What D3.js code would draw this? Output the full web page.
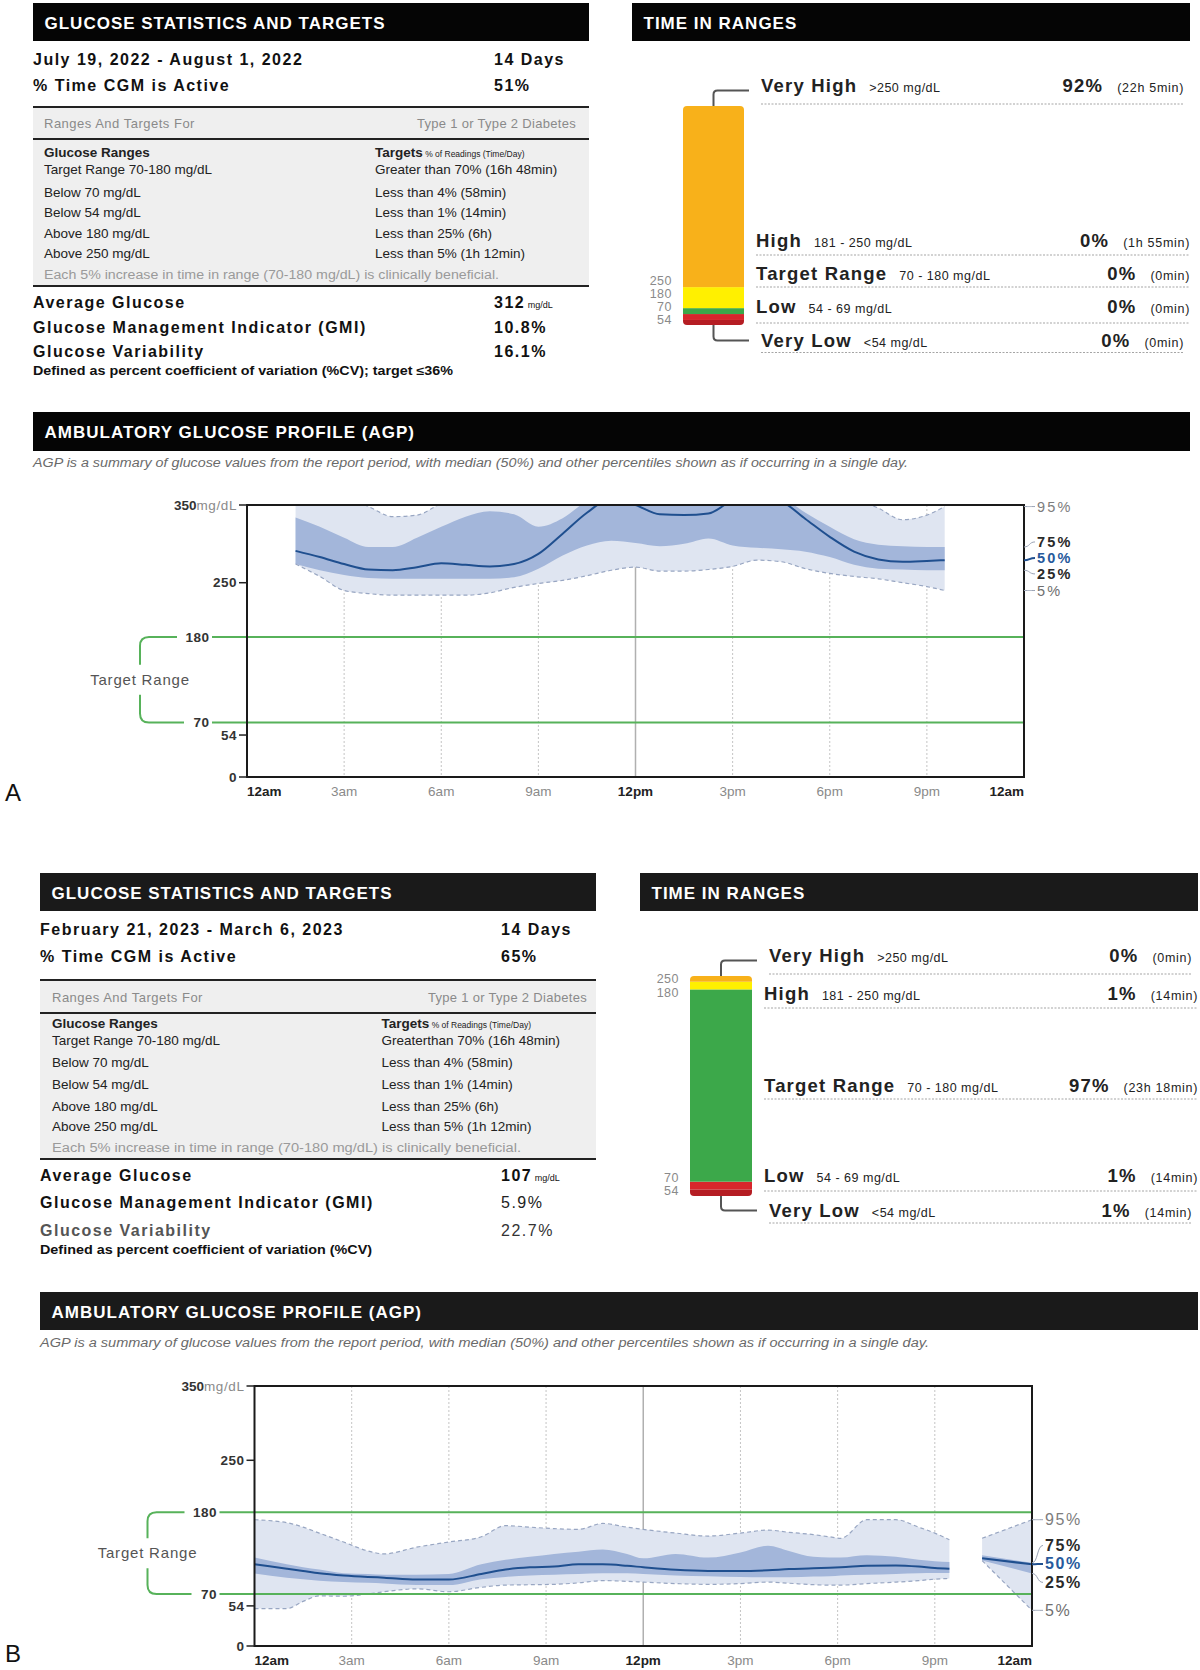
<!DOCTYPE html>
<html><head><meta charset="utf-8">
<script src="https://cdn.jsdelivr.net/npm/d3@7"></script>
<style>
html,body{margin:0;padding:0;background:#fff}
svg{display:block;font-family:"Liberation Sans",Arial,Helvetica,sans-serif}
</style>
</head><body>
<svg id="chart" width="1200" height="1670"></svg>
<script>
// ================= DATA =================
// Stats (panel A / panel B)
const periodA = "July 19, 2022 - August 1, 2022";
const periodB = "February 21, 2023 - March 6, 2023";
const daysA = "14 Days", daysB = "14 Days";
const activeA = "51%", activeB = "65%";
const avgGlucoseA = "312", avgGlucoseB = "107";
const gmiA = "10.8%", gmiB = "5.9%";
const cvA = "16.1%", cvB = "22.7%";
const cvNoteA = "Defined as percent coefficient of variation (%CV); target \u226436%";
const cvNoteB = "Defined as percent coefficient of variation (%CV)";
const rangeRows = ["Target Range 70-180 mg/dL","Below 70 mg/dL","Below 54 mg/dL","Above 180 mg/dL","Above 250 mg/dL"];
const targetRowsA = ["Greater than 70% (16h 48min)","Less than 4% (58min)","Less than 1% (14min)","Less than 25% (6h)","Less than 5% (1h 12min)"];
const targetRowsB = ["Greaterthan 70% (16h 48min)","Less than 4% (58min)","Less than 1% (14min)","Less than 25% (6h)","Less than 5% (1h 12min)"];
const noteText = "Each 5% increase in time in range (70-180 mg/dL) is clinically beneficial.";

// Time in ranges (top -> bottom)
const tirCategories = ["Very High","High","Target Range","Low","Very Low"];
const tirRangeText = [">250 mg/dL","181 - 250 mg/dL","70 - 180 mg/dL","54 - 69 mg/dL","<54 mg/dL"];
const tirPctA = ["92%","0%","0%","0%","0%"];
const tirTimeA = ["(22h 5min)","(1h 55min)","(0min)","(0min)","(0min)"];
const tirPctB = ["0%","1%","97%","1%","1%"];
const tirTimeB = ["(0min)","(14min)","(23h 18min)","(14min)","(14min)"];
// bar segment shares as drawn (veryHigh, high, target, low, veryLow)
const barSharesA = [82.7, 9.6, 2.7, 2.7, 2.3];
const barSharesB = [2.6, 3.5, 87.4, 3.5, 3.0];
const barTickLabels = ["250","180","70","54"];
const tirColors = ["#F8B11A","#FFF000","#3CA84A","#D8262C","#B51D23"];

// AGP axis
const timeTickHours = [0,3,6,9,12,15,18,21,24];
const timeTickLabels = ["12am","3am","6am","9am","12pm","3pm","6pm","9pm","12am"];
const timeTickBold = [true,false,false,false,true,false,false,false,true];
const glucoseTicks = [0,54,250];
const targetLimits = [180,70];
const percentileNames = ["95%","75%","50%","25%","5%"];

// AGP panel A (mg/dL)
const hoursA = [1.5,2.25,3,3.75,4.5,5.25,6,6.75,7.5,8.25,9,9.75,10.5,11.25,12,12.75,13.5,14.25,15,15.75,16.5,17.25,18,18.75,19.5,20.25,21,21.55];
const p95A = [362,362,360,348,335,337,352,362,365,365,365,365,368,370,370,370,370,370,370,370,368,365,362,358,346,331,337,348];
const p75A = [334,322,308,296,296,308,322,335,342,338,322,333,355,365,368,368,368,368,368,366,360,340,322,306,299,297,296,296];
const p50A = [291,283,274,267,266,270,275,273,271,274,287,313,340,358,350,338,337,339,356,362,355,332,309,290,280,277,278,279];
const p25A = [274,266,260,256,255,255,255,255,255,257,268,285,298,304,301,297,300,307,298,295,293,290,283,273,268,267,266,266];
const p5A  = [274,258,240,236,234,234,234,234,237,244,249,253,259,266,270,265,265,267,271,279,277,268,262,258,255,250,245,240];

// AGP panel B (mg/dL), null = no data
const hoursB = [0,1,1.5,2,2.75,3.5,4,5,6,7,7.75,8.5,9.25,10,10.75,11.5,12,13,14,15,15.85,16.5,17.25,17.75,18.1,18.9,19.8,20.5,21,21.45,22,22.46,24];
const p95B = [170,166,160,152,140,128,124,133,140,147,162,160,158,157,165,160,157,152,148,152,156,153,150,147,145,170,170,160,152,143,null,145,170];
const p75B = [119,110,106,103,98,97,96,96,97,110,116,120,124,127,130,124,118,124,119,126,135,128,120,119,119,122,120,116,114,113,null,122,112];
const p50B = [110,104,101,98,95,93,92,89.5,89.5,97,103,106,107,110,110,108,106,102.5,101,101,102,103.5,104.5,105.5,106,108,108.5,107,105,104,null,118,110];
const p25B = [97.6,92,90,88,86,85,84,82,82,90,93,95,96,97,98,98,97,95,94,93,92.5,92.5,93.5,94,95,96,97,98,98.4,98.4,null,115,97.6];
const p5B  = [50.4,50.4,60,67.5,67,70,73,77,73,79,82,82.5,83,85,88,87,86,84,83,84,86,84.5,82.5,82,82,84,86,88,90,91,null,115,48];

// ================= LAYOUT =================
const LA = {
  stats:{x0:33,x1:589,hy:3,hh:38,valX:494,ind:11,tx:375,rind:13,date:65,active:91,line1:107,ratf:128,line2:139,gr:157,rows:[174,197,217,238,258],note:279,noteW:455,line3:286,avg:308,gmi:333,gv:357,def:375,defW:420,hfill:"#050505",gvColor:"#111",lightVals:false},
  tir:{x0:632,x1:1190,hy:3,hh:38,barL:683,barR:744,barTop:106,barBottom:325,rowY:[92,247,280,313,347],dotOff:[12,8,7,10,5.5],hfill:"#050505"},
  agp:{hx0:33,hx1:1190,hy:412,hh:39,sub:467,subW:875,left:247,right:1024,top:505,bottom:777,pctSize:14.5,pctLs:2.2,pctGap:16,letter:"A",letterY:801}
};
const LB = {
  stats:{x0:40,x1:596,hy:873,hh:38,valX:501,ind:12,tx:381.5,rind:9,date:935,active:962,line1:980,ratf:1002,line2:1013,gr:1028,rows:[1045,1067,1089,1111,1131],note:1152,noteW:469,line3:1159,avg:1181,gmi:1208,gv:1236,def:1254,defW:332,hfill:"#1a1a1a",gvColor:"#555",lightVals:true},
  tir:{x0:640,x1:1198,hy:873,hh:38,barL:690,barR:752,barTop:976,barBottom:1196,rowY:[962,1000,1092,1182,1217],dotOff:[12,8,7,9,6],hfill:"#1a1a1a"},
  agp:{hx0:40,hx1:1198,hy:1292,hh:38,sub:1347,subW:889,left:254.5,right:1032,top:1386,bottom:1646,pctSize:16,pctLs:1.6,pctGap:18.5,letter:"B",letterY:1662}
};

// ================= HELPERS =================
const svg = d3.select("#chart");
svg.append("rect").attr("width",1200).attr("height",1670).attr("fill","#fff");

function T(g, x, y, str, o = {}) {
  const t = g.append("text").attr("x", x).attr("y", y).text(str)
    .attr("font-size", o.s || 13)
    .attr("font-weight", o.b ? "bold" : "normal")
    .attr("fill", o.c || "#222")
    .attr("text-anchor", o.a || "start");
  if (o.ls) t.attr("letter-spacing", o.ls);
  if (o.i) t.attr("font-style", "italic");
  if (o.dy) t.attr("dy", o.dy);
  if (o.w) t.attr("textLength", o.w).attr("lengthAdjust", "spacingAndGlyphs");
  return t;
}
function header(g, x, y, w, h, title, fill) {
  g.append("rect").attr("x", x).attr("y", y).attr("width", w).attr("height", h).attr("fill", fill);
  T(g, x + 11.5, y + h / 2 + 6.5, title, {s:17, b:1, c:"#fff", ls:1.0});
}
function relax(ys, gap, maxY) {
  const p = ys.slice();
  for (let k = 0; k < 60; k++) {
    for (let i = 1; i < p.length; i++) {
      const d = p[i] - p[i-1];
      if (d < gap) { const m = (gap - d) / 2; p[i] += m; p[i-1] -= m; }
    }
    p[p.length-1] = Math.min(p[p.length-1], maxY);
    for (let i = p.length - 2; i >= 0; i--) p[i] = Math.min(p[i], p[i+1] - gap);
  }
  return p;
}

// ================= STATS =================
function drawStats(L, S) {
  const g = svg.append("g");
  header(g, L.x0, L.hy, L.x1 - L.x0, L.hh, "GLUCOSE STATISTICS AND TARGETS", L.hfill);
  const big = {s:16, b:1, ls:1.5, c:"#111"};
  T(g, L.x0, L.date, S.period, big);
  T(g, L.valX, L.date, S.days, big);
  T(g, L.x0, L.active, "% Time CGM is Active", big);
  T(g, L.valX, L.active, S.active, big);

  g.append("rect").attr("x", L.x0).attr("y", L.line1).attr("width", L.x1 - L.x0)
    .attr("height", L.line3 - L.line1).attr("fill", "#efefef");
  [L.line1, L.line2, L.line3].forEach(yy =>
    g.append("line").attr("x1", L.x0).attr("x2", L.x1).attr("y1", yy).attr("y2", yy)
      .attr("stroke", "#222").attr("stroke-width", 2.2));

  T(g, L.x0 + L.ind, L.ratf, "Ranges And Targets For", {s:13, c:"#8a8a8a", ls:0.5});
  T(g, L.x1 - L.rind, L.ratf, "Type 1 or Type 2 Diabetes", {s:13, c:"#8a8a8a", a:"end", ls:0.3});
  T(g, L.x0 + L.ind, L.gr, "Glucose Ranges", {s:13.5, b:1, c:"#222"});
  const tt = T(g, L.tx, L.gr, "Targets", {s:13.5, b:1, c:"#222"});
  tt.append("tspan").attr("font-size", 8.5).attr("font-weight", "normal").text(" % of Readings (Time/Day)");
  rangeRows.forEach((r, i) => {
    T(g, L.x0 + L.ind, L.rows[i], r, {s:13.5, c:"#222"});
    T(g, L.tx, L.rows[i], S.targets[i], {s:13.5, c:"#222"});
  });
  T(g, L.x0 + L.ind, L.note, noteText, {s:12.5, c:"#9a9a9a", w:L.noteW});

  T(g, L.x0, L.avg, "Average Glucose", big);
  const av = T(g, L.valX, L.avg, S.avg, big);
  av.append("tspan").attr("font-size", 9).attr("font-weight", "normal").attr("letter-spacing", 0).text("  mg/dL");
  T(g, L.x0, L.gmi, "Glucose Management Indicator (GMI)", big);
  T(g, L.valX, L.gmi, S.gmi, L.lightVals ? {s:16, ls:1.5, c:"#222"} : big);
  T(g, L.x0, L.gv, "Glucose Variability", Object.assign({}, big, {c:L.gvColor}));
  T(g, L.valX, L.gv, S.cv, L.lightVals ? {s:16, ls:1.5, c:"#333"} : big);
  T(g, L.x0, L.def, S.cvNote, {s:12, b:1, c:"#111", w:L.defW});
}

// ================= TIME IN RANGES =================
function drawTIR(L, shares, pcts, times, id) {
  const g = svg.append("g");
  header(g, L.x0, L.hy, L.x1 - L.x0, L.hh, "TIME IN RANGES", L.hfill);
  const yb = d3.scaleLinear().domain([0, 100]).range([L.barBottom, L.barTop]);
  const segs = [];
  let acc = 0;
  for (let i = shares.length - 1; i >= 0; i--) {
    segs.push({i, y0: acc, y1: acc + shares[i]});
    acc += shares[i];
  }
  const clip = g.append("clipPath").attr("id", "barclip" + id);
  clip.append("rect").attr("x", L.barL).attr("y", yb(100)).attr("width", L.barR - L.barL)
    .attr("height", yb(0) - yb(100)).attr("rx", 4);
  const bg = g.append("g").attr("clip-path", `url(#barclip${id})`);
  bg.selectAll("rect").data(segs).join("rect")
    .attr("x", L.barL).attr("width", L.barR - L.barL)
    .attr("y", d => yb(d.y1)).attr("height", d => yb(d.y0) - yb(d.y1))
    .attr("fill", d => tirColors[d.i]);

  const bounds = [1, 2, 3, 4].map(k => yb(shares.slice(k).reduce((a, b) => a + b, 0)));
  const ly = relax(bounds, 13.2, yb(0) - 5);
  barTickLabels.forEach((t, k) => T(g, L.barL - 11, ly[k], t, {s:12.5, c:"#8a8a8a", a:"end", ls:0.5, dy:"0.35em"}));

  const cx = (L.barL + L.barR) / 2;
  tirCategories.forEach((cat, i) => {
    const outer = (i === 0 || i === 4);
    const lx = L.barR + (outer ? 17 : 12);
    const end = L.x1 - (outer ? 6 : 0);
    const by = L.rowY[i];
    const lab = T(g, lx, by, cat, {s:18.5, b:1, ls:1.2, c:"#222"});
    const lw = lab.node().getComputedTextLength();
    T(g, lx + lw + 12, by, tirRangeText[i], {s:12.5, ls:0.5, c:"#222"});
    const tm = T(g, end, by, times[i], {s:12.5, ls:0.7, a:"end", c:"#222"});
    const tw = tm.node().getComputedTextLength();
    T(g, end - tw - 14, by, pcts[i], {s:18.5, b:1, ls:1.2, a:"end", c:"#222"});
    g.append("line").attr("x1", lx).attr("x2", end)
      .attr("y1", by + L.dotOff[i]).attr("y2", by + L.dotOff[i])
      .attr("stroke", "#a5a5a5").attr("stroke-width", 1).attr("stroke-dasharray", "2,1.5");
  });
  const r = 4;
  const xe = L.barR + 17 - 12;
  const yt = L.rowY[0] - 1.5, ybt = L.rowY[4] - 6.5;
  g.append("path").attr("d", `M${cx},${yb(100)} V${yt + r} Q${cx},${yt} ${cx + r},${yt} H${xe}`)
    .attr("fill", "none").attr("stroke", "#555").attr("stroke-width", 2);
  g.append("path").attr("d", `M${cx},${yb(0)} V${ybt - r} Q${cx},${ybt} ${cx + r},${ybt} H${xe}`)
    .attr("fill", "none").attr("stroke", "#555").attr("stroke-width", 2);
}

// ================= AGP =================
function drawAGP(L, hours, P, id) {
  const g = svg.append("g");
  g.append("rect").attr("x", L.hx0).attr("y", L.hy).attr("width", L.hx1 - L.hx0).attr("height", L.hh)
    .attr("fill", id === "A" ? "#050505" : "#1a1a1a");
  T(g, L.hx0 + 11.5, L.hy + L.hh / 2 + 6.5, "AMBULATORY GLUCOSE PROFILE (AGP)", {s:17, b:1, c:"#fff", ls:1.0});
  T(g, L.hx0, L.sub, "AGP is a summary of glucose values from the report period, with median (50%) and other percentiles shown as if occurring in a single day.",
    {s:12.5, i:1, c:"#6a6a6a", w:L.subW});

  const x = d3.scaleLinear().domain([0, 24]).range([L.left, L.right]);
  const y = d3.scaleLinear().domain([0, 350]).range([L.bottom, L.top]);

  timeTickHours.forEach(h => {
    if (h === 0 || h === 24) return;
    g.append("line").attr("x1", x(h)).attr("x2", x(h)).attr("y1", y(350)).attr("y2", y(0))
      .attr("stroke", h === 12 ? "#b0b0b0" : "#c4c4c4").attr("stroke-width", h === 12 ? 1.5 : 1)
      .attr("stroke-dasharray", h === 12 ? null : "2,2");
  });

  const rows = hours.map((h, i) => ({h, p95:P[0][i], p75:P[1][i], p50:P[2][i], p25:P[3][i], p5:P[4][i]}));
  const def = d => d.p50 != null;
  const area = (lo, hi) => d3.area().defined(def).curve(d3.curveMonotoneX)
    .x(d => x(d.h)).y0(d => y(d[lo])).y1(d => y(d[hi]));
  const line = k => d3.line().defined(def).curve(d3.curveMonotoneX).x(d => x(d.h)).y(d => y(d[k]));

  g.append("clipPath").attr("id", "plotclip" + id).append("rect")
    .attr("x", x(0)).attr("y", y(350)).attr("width", x(24) - x(0)).attr("height", y(0) - y(350));
  const cg = g.append("g").attr("clip-path", `url(#plotclip${id})`);
  cg.append("path").attr("d", area("p5", "p95")(rows)).attr("fill", "#dfe5f1");
  cg.append("path").attr("d", area("p25", "p75")(rows)).attr("fill", "#a3b6da");
  ["p95", "p5"].forEach(k => cg.append("path").attr("d", line(k)(rows)).attr("fill", "none")
    .attr("stroke", "#98a6c2").attr("stroke-width", 1.2).attr("stroke-dasharray", "4,3"));
  cg.append("path").attr("d", line("p50")(rows)).attr("fill", "none")
    .attr("stroke", "#1f4f8f").attr("stroke-width", 2);

  targetLimits.forEach(v => {
    g.append("line").attr("x1", L.left - 35).attr("x2", x(24)).attr("y1", y(v)).attr("y2", y(v))
      .attr("stroke", "#57b25a").attr("stroke-width", 2);
    T(g, L.left - 37.5, y(v), String(v), {s:13.5, b:1, c:"#333", a:"end", ls:0.5, dy:"0.35em"});
  });
  const yT = y(180), yL = y(70), bx = L.left - 107, mid = (yT + yL) / 2, r = 9;
  g.append("path").attr("d", `M${L.left - 70},${yT} H${bx + r} Q${bx},${yT} ${bx},${yT + r} V${mid - 15}`)
    .attr("fill", "none").attr("stroke", "#57b25a").attr("stroke-width", 2);
  g.append("path").attr("d", `M${bx},${mid + 15} V${yL - r} Q${bx},${yL} ${bx + r},${yL} H${L.left - 63}`)
    .attr("fill", "none").attr("stroke", "#57b25a").attr("stroke-width", 2);
  T(g, bx, mid, "Target Range", {s:15, c:"#555", a:"middle", ls:0.8, dy:"0.35em"});

  g.append("rect").attr("x", x(0)).attr("y", y(350)).attr("width", x(24) - x(0)).attr("height", y(0) - y(350))
    .attr("fill", "none").attr("stroke", "#1a1a1a").attr("stroke-width", 2);

  glucoseTicks.forEach(v => {
    g.append("line").attr("x1", L.left - 8).attr("x2", L.left).attr("y1", y(v)).attr("y2", y(v))
      .attr("stroke", "#222").attr("stroke-width", 1.5);
    T(g, L.left - 10, y(v), String(v), {s:13.5, b:1, c:"#333", a:"end", ls:0.5, dy:"0.35em"});
  });
  g.append("line").attr("x1", L.left - 8).attr("x2", L.left).attr("y1", y(350)).attr("y2", y(350))
    .attr("stroke", "#222").attr("stroke-width", 1.5);
  const t350 = T(g, L.left - 10, y(350), "350", {s:13.5, b:1, c:"#333", a:"end", dy:"0.35em"});
  t350.append("tspan").attr("font-weight", "normal").attr("fill", "#8a8a8a").attr("letter-spacing", 0.6).text("mg/dL");

  timeTickHours.forEach((h, i) => {
    const anchor = i === 0 ? "start" : (i === timeTickHours.length - 1 ? "end" : "middle");
    T(g, x(h), y(0) + 19, timeTickLabels[i], {s:13.5, b:timeTickBold[i], c:timeTickBold[i] ? "#222" : "#8a8a8a", a:anchor});
  });

  const last = rows.filter(def).slice(-1)[0];
  const keys = ["p95", "p75", "p50", "p25", "p5"];
  const ends = keys.map(k => y(last[k]));
  const ly = relax(ends, L.pctGap, 1e9);
  const pcol = ["#7d7d7d", "#2a2a2a", "#275a9c", "#2a2a2a", "#6f6f6f"];
  keys.forEach((k, i) => {
    const x0 = x(24), x1 = x(24) + 11;
    g.append("path").attr("d", `M${x0},${ends[i]} C${x0 + 6},${ends[i]} ${x0 + 5},${ly[i]} ${x1},${ly[i]}`)
      .attr("fill", "none").attr("stroke", k === "p50" ? "#1f4f8f" : "#9aa3b5")
      .attr("stroke-width", k === "p50" ? 2 : 1);
    T(g, x0 + 13, ly[i], percentileNames[i], {s:L.pctSize, b:(k !== "p95" && k !== "p5"), c:pcol[i], ls:L.pctLs, dy:"0.35em"});
  });

  T(g, 5, L.letterY, L.letter, {s:24, c:"#111"});
}

// ================= RENDER =================
drawStats(LA.stats, {period:periodA, days:daysA, active:activeA, avg:avgGlucoseA, gmi:gmiA, cv:cvA, cvNote:cvNoteA, targets:targetRowsA});
drawTIR(LA.tir, barSharesA, tirPctA, tirTimeA, "A");
drawAGP(LA.agp, hoursA, [p95A, p75A, p50A, p25A, p5A], "A");

drawStats(LB.stats, {period:periodB, days:daysB, active:activeB, avg:avgGlucoseB, gmi:gmiB, cv:cvB, cvNote:cvNoteB, targets:targetRowsB});
drawTIR(LB.tir, barSharesB, tirPctB, tirTimeB, "B");
drawAGP(LB.agp, hoursB, [p95B, p75B, p50B, p25B, p5B], "B");
</script>
</body></html>
